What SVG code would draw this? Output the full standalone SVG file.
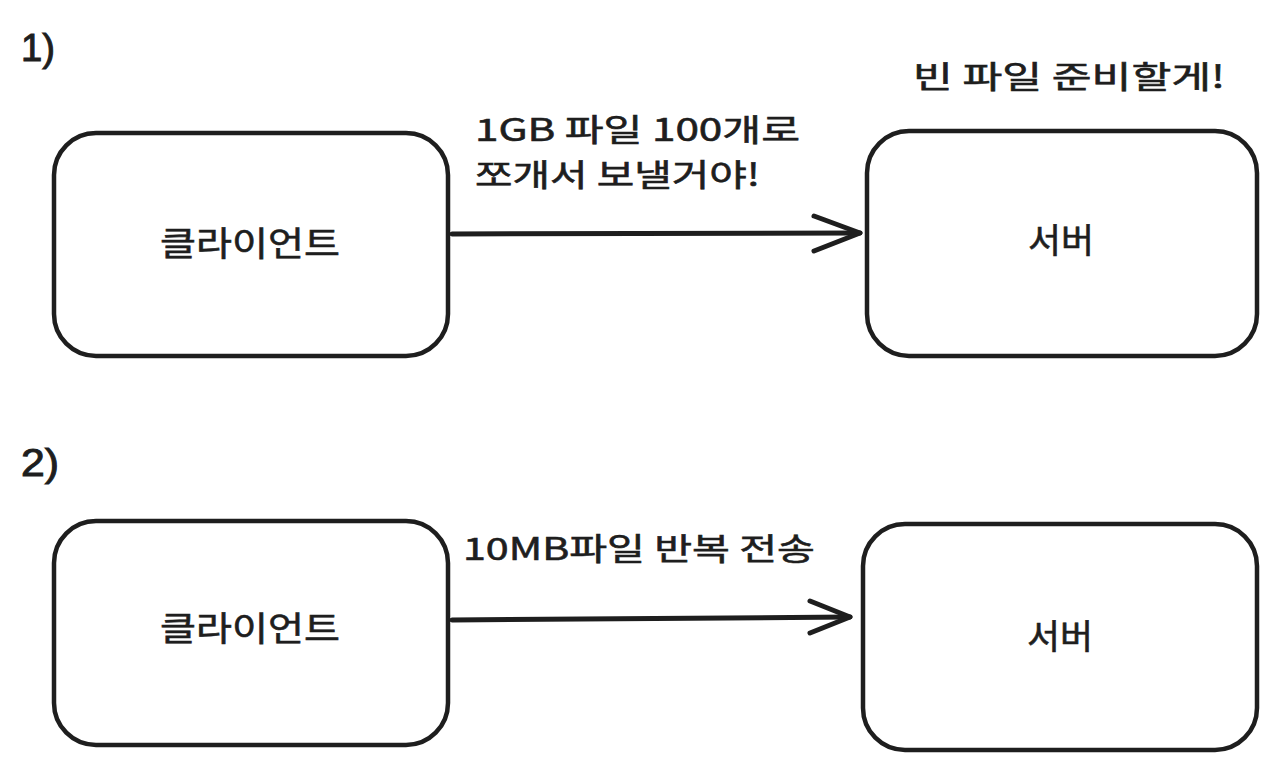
<svg xmlns="http://www.w3.org/2000/svg" width="1282" height="768" viewBox="0 0 1282 768">
<style>
.box{fill:#fff;stroke:#1e1e1e;stroke-width:4.5;stroke-linejoin:round}
.edge{fill:none;stroke:#1e1e1e;stroke-width:5;stroke-linecap:round;stroke-linejoin:round}
.t{font-family:"Noto Sans CJK KR","Noto Sans",sans-serif;fill:#1e1e1e;stroke:#1e1e1e;stroke-width:0.6}
.lbl{font-size:34px;text-anchor:middle}
.note{font-size:31px}
.num{font-size:38px;font-family:"Liberation Sans",sans-serif;stroke-width:1}
</style>
<rect width="1282" height="768" fill="#fff"/>
<text class="t num" x="21" y="61" textLength="34" lengthAdjust="spacingAndGlyphs">1)</text>
<text class="t num" x="21" y="476" textLength="38" lengthAdjust="spacingAndGlyphs">2)</text>
<g id="client1">
<rect class="box" x="54" y="133" width="394" height="223" rx="42"/>
<text class="t lbl" x="250" y="256" textLength="180" lengthAdjust="spacingAndGlyphs">클라이언트</text>
</g>
<g id="server1">
<rect class="box" x="867" y="131" width="390" height="225" rx="42"/>
<text class="t lbl" x="1061" y="253" textLength="66" lengthAdjust="spacingAndGlyphs">서버</text>
</g>
<g id="client2">
<rect class="box" x="54" y="521" width="394" height="224" rx="42"/>
<text class="t lbl" x="250" y="641" textLength="180" lengthAdjust="spacingAndGlyphs">클라이언트</text>
</g>
<g id="server2">
<rect class="box" x="863" y="524" width="394" height="226" rx="42"/>
<text class="t lbl" x="1060" y="649" textLength="66" lengthAdjust="spacingAndGlyphs">서버</text>
</g>
<g id="connectors">
<path class="edge" d="M452 234 L860 233"/>
<polyline class="edge" points="814,216 860,233 814,251"/>
<path class="edge" d="M452 620 L850 617"/>
<polyline class="edge" points="810,601 850,617 810,633"/>
</g>
<g id="labels">
<text class="t note" x="913" y="88" textLength="312" lengthAdjust="spacingAndGlyphs">빈 파일 준비할게!</text>
<text class="t note" x="475" y="141" textLength="325" lengthAdjust="spacingAndGlyphs">1GB 파일 100개로</text>
<text class="t note" x="475" y="186" textLength="285" lengthAdjust="spacingAndGlyphs">쪼개서 보낼거야!</text>
<text class="t note" x="463" y="560" textLength="352" lengthAdjust="spacingAndGlyphs">10MB파일 반복 전송</text>
</g>
</svg>
